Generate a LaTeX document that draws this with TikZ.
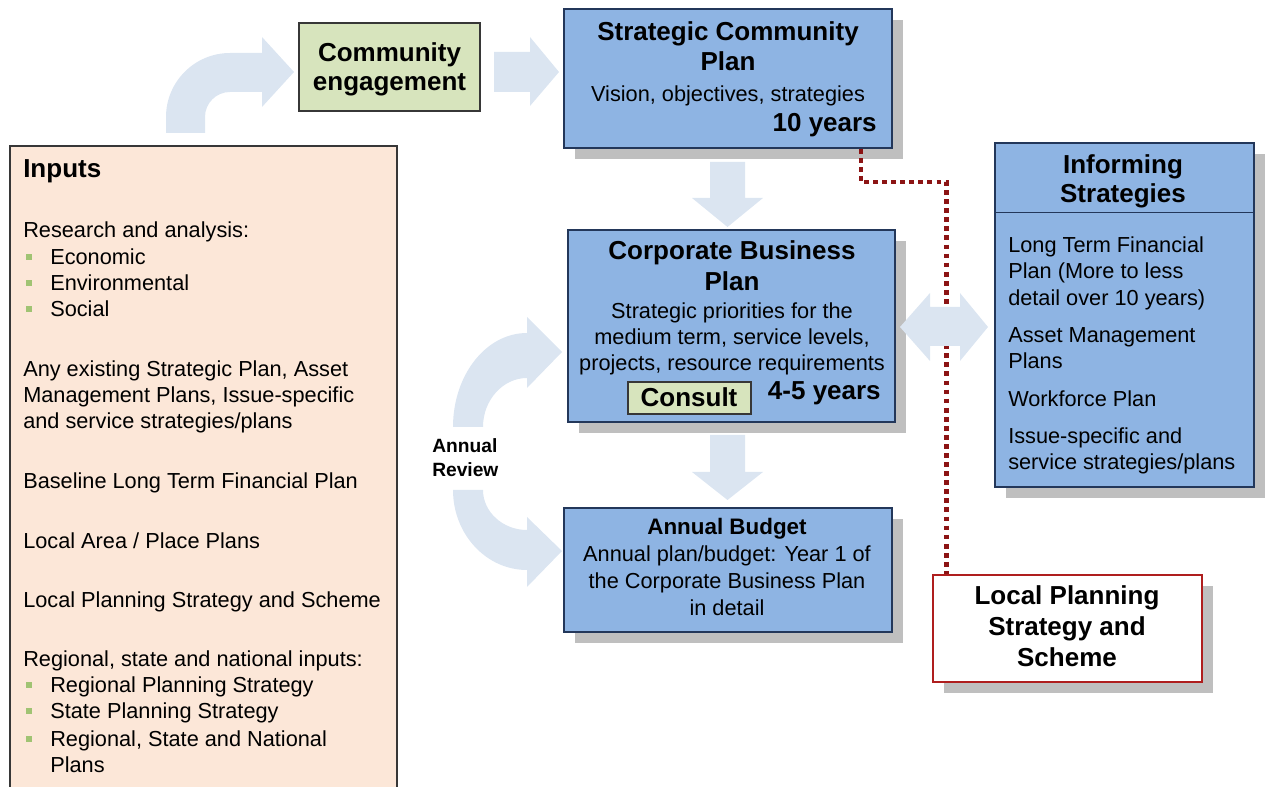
\documentclass[tikz,border=0pt]{standalone}
\usepackage{fontspec}
\setmainfont{Liberation Sans}
\usetikzlibrary{fit,shadows}
\definecolor{boxblue}{RGB}{142,180,227}
\definecolor{boxblueline}{RGB}{35,55,90}
\definecolor{boxgreen}{RGB}{215,228,189}
\definecolor{peach}{RGB}{252,231,216}
\definecolor{arrowfill}{RGB}{219,229,241}
\definecolor{shadowgray}{RGB}{191,191,191}
\definecolor{dotred}{RGB}{140,20,20}
\definecolor{lpred}{RGB}{175,30,30}
\definecolor{bulgreen}{RGB}{160,195,115}
\definecolor{darkline}{RGB}{55,55,55}
\begin{document}
\begin{tikzpicture}[x=0.75pt,y=-0.75pt,
  title/.style={font=\fontsize{19.5}{24}\selectfont\bfseries, inner sep=0pt, anchor=base},
  body/.style={font=\fontsize{16.3}{19.5}\selectfont, inner sep=0pt, anchor=base},
  boxshadow/.style={drop shadow={shadow xshift=8.25pt, shadow yshift=-8.25pt, fill=shadowgray, opacity=1}},
  bluebox/.style={fill=boxblue, draw=boxblueline, line width=1.1pt, inner sep=0pt, boxshadow},
  greenbox/.style={fill=boxgreen, draw=darkline, line width=1.1pt, inner sep=0pt},
  bigarrow/.style={fill=arrowfill, draw=none},
  bulletsq/.style={fill=bulgreen, draw=none, inner sep=0pt, minimum size=4.5pt},
  dottedlink/.style={draw=dotred, line width=3.4pt, dash pattern=on 3.6pt off 3.2pt}
]
\useasboundingbox (0,0) rectangle (1265,787);
\clip (0,0) rectangle (1265,787);

% Inputs box
\node[fill=peach, draw=darkline, line width=1.1pt, inner sep=0pt, fit={(10,146)(397,800)}] (inp) {};
\node[title, anchor=base west] (inptitle) at (23,178) {Inputs};
\foreach \i/\y/\t in {1/238/{Research and analysis:},
                      2/377/{Any existing Strategic Plan, Asset},
                      3/403/{Management Plans, Issue-specific},
                      4/429/{and service strategies/plans},
                      5/489/{Baseline Long Term Financial Plan},
                      6/549/{Local Area / Place Plans},
                      7/608/{Local Planning Strategy and Scheme},
                      8/667/{Regional, state and national inputs:}}
  \node[body, anchor=base west] (in\i) at (23,\y) {\t};
\foreach \i/\y/\t in {1/265/{Economic},
                      2/291/{Environmental},
                      3/317/{Social},
                      4/693/{Regional Planning Strategy},
                      5/719/{State Planning Strategy},
                      6/747/{Regional, State and National}}
{
  \node[body, anchor=base west] (bl\i) at (50,\y) {\t};
  \node[bulletsq] (bq\i) at (28.5,\y-7.5) {};
}
\node[body, anchor=base west] (bl7) at (50,773) {Plans};

% Big light arrows
\path[bigarrow] (166,133) -- (166,117) .. controls (166,81.7) and (194.7,53) .. (230,53)
  -- (262,53) -- (262,37) -- (294,72) -- (262,107) -- (262,92) -- (230,92)
  .. controls (216.2,92) and (205,103.2) .. (205,117) -- (205,133) -- cycle;
\path[bigarrow] (494,52) -- (530,52) -- (530,37) -- (559,72) -- (530,106) -- (530,92) -- (494,92) -- cycle;
\path[bigarrow] (710,162) -- (745,162) -- (745,198) -- (763,198) -- (727.5,227) -- (692,198) -- (710,198) -- cycle;
\path[bigarrow] (710,435) -- (745,435) -- (745,472) -- (763,472) -- (727.5,500) -- (692,472) -- (710,472) -- cycle;
\path[bigarrow] (453,427) .. controls (453,375) and (486,333) .. (527,333) -- (527,317) -- (562,352)
  -- (527,388) -- (527,378) .. controls (503,378) and (483,400) .. (483,427) -- cycle;
\path[bigarrow] (453,490) .. controls (453,534) and (486,570) .. (527,570) -- (527,587) -- (562,551)
  -- (527,517) -- (527,530) .. controls (503,530) and (483,512) .. (483,490) -- cycle;

% Boxes
\node[greenbox, fit={(299,23)(480,111)}] (ce) {};
\node[title] (ce1) at (389.5,62) {Community};
\node[title] (ce2) at (389.5,91) {engagement};

\node[bluebox, fit={(564,9)(892,148)}] (scp) {};
\node[title] (scp1) at (728,41) {Strategic Community};
\node[title] (scp2) at (728,71) {Plan};
\node[body] (scp3) at (728,102) {Vision, objectives, strategies};
\node[title, anchor=base east] (scp4) at (877,132) {10 years};

\node[bluebox, fit={(568,230)(895,422)}] (cbp) {};
\node[title] (cbp1) at (732,260) {Corporate Business};
\node[title] (cbp2) at (732,291) {Plan};
\node[body] (cbp3) at (732,319) {Strategic priorities for the};
\node[body] (cbp4) at (732,345) {medium term, service levels,};
\node[body] (cbp5) at (732,371) {projects, resource requirements};
\node[greenbox, fit={(628,382)(751,414)}] (cons) {};
\node[title] (cons1) at (689,407) {Consult};
\node[title, anchor=base east] (cbp6) at (881,400) {4-5 years};

\node[bluebox, fit={(564,508)(892,632)}] (ab) {};
\node[font=\fontsize{16.8}{20}\selectfont\bfseries, inner sep=0pt, anchor=base] (ab1) at (727,535) {Annual Budget};
\node[body] (ab2) at (727,562) {Annual plan/budget: Year 1 of};
\node[body] (ab3) at (727,589) {the Corporate Business Plan};
\node[body] (ab4) at (727,616) {in detail};

\node[font=\fontsize{14.4}{17}\selectfont\bfseries, inner sep=0pt, anchor=base west] (ar1) at (432,453) {Annual};
\node[font=\fontsize{14.4}{17}\selectfont\bfseries, inner sep=0pt, anchor=base west] (ar2) at (432,477) {Review};

\node[bluebox, fit={(995,143)(1254,487)}] (is) {};
\coordinate (isdiv) at (0,212.3);
\draw[boxblueline, line width=1.1pt] (is.west |- isdiv) -- (is.east |- isdiv);
\node[title] (is1) at (1123,174) {Informing};
\node[title] (is2) at (1123,203) {Strategies};
\foreach \i/\y/\t in {3/253/{Long Term Financial},
                      4/279/{Plan (More to less},
                      5/306/{detail over 10 years)},
                      6/343/{Asset Management},
                      7/369/{Plans},
                      8/407/{Workforce Plan},
                      9/444/{Issue-specific and},
                      10/470/{service strategies/plans}}
  \node[body, anchor=base west] (is\i) at (1008,\y) {\t};

\node[fill=white, draw=lpred, line width=1.1pt, inner sep=0pt, boxshadow, fit={(933,575)(1202,682)}] (lp) {};
\node[title] (lp1) at (1067,605) {Local Planning};
\node[title] (lp2) at (1067,636) {Strategy and};
\node[title] (lp3) at (1067,667) {Scheme};

% Dotted link
\coordinate (dA) at (861,0);
\coordinate (dB) at (946.5,182);
\draw[dottedlink] (scp.south -| dA) |- (dB) -- (lp.north -| dB);

% Double arrow between CBP and Informing Strategies
\path[bigarrow] (900,327) -- (930,293) -- (930,307) -- (960,307) -- (960,293) -- (988,327)
  -- (960,361) -- (960,346) -- (930,346) -- (930,361) -- cycle;
\end{tikzpicture}
\end{document}
